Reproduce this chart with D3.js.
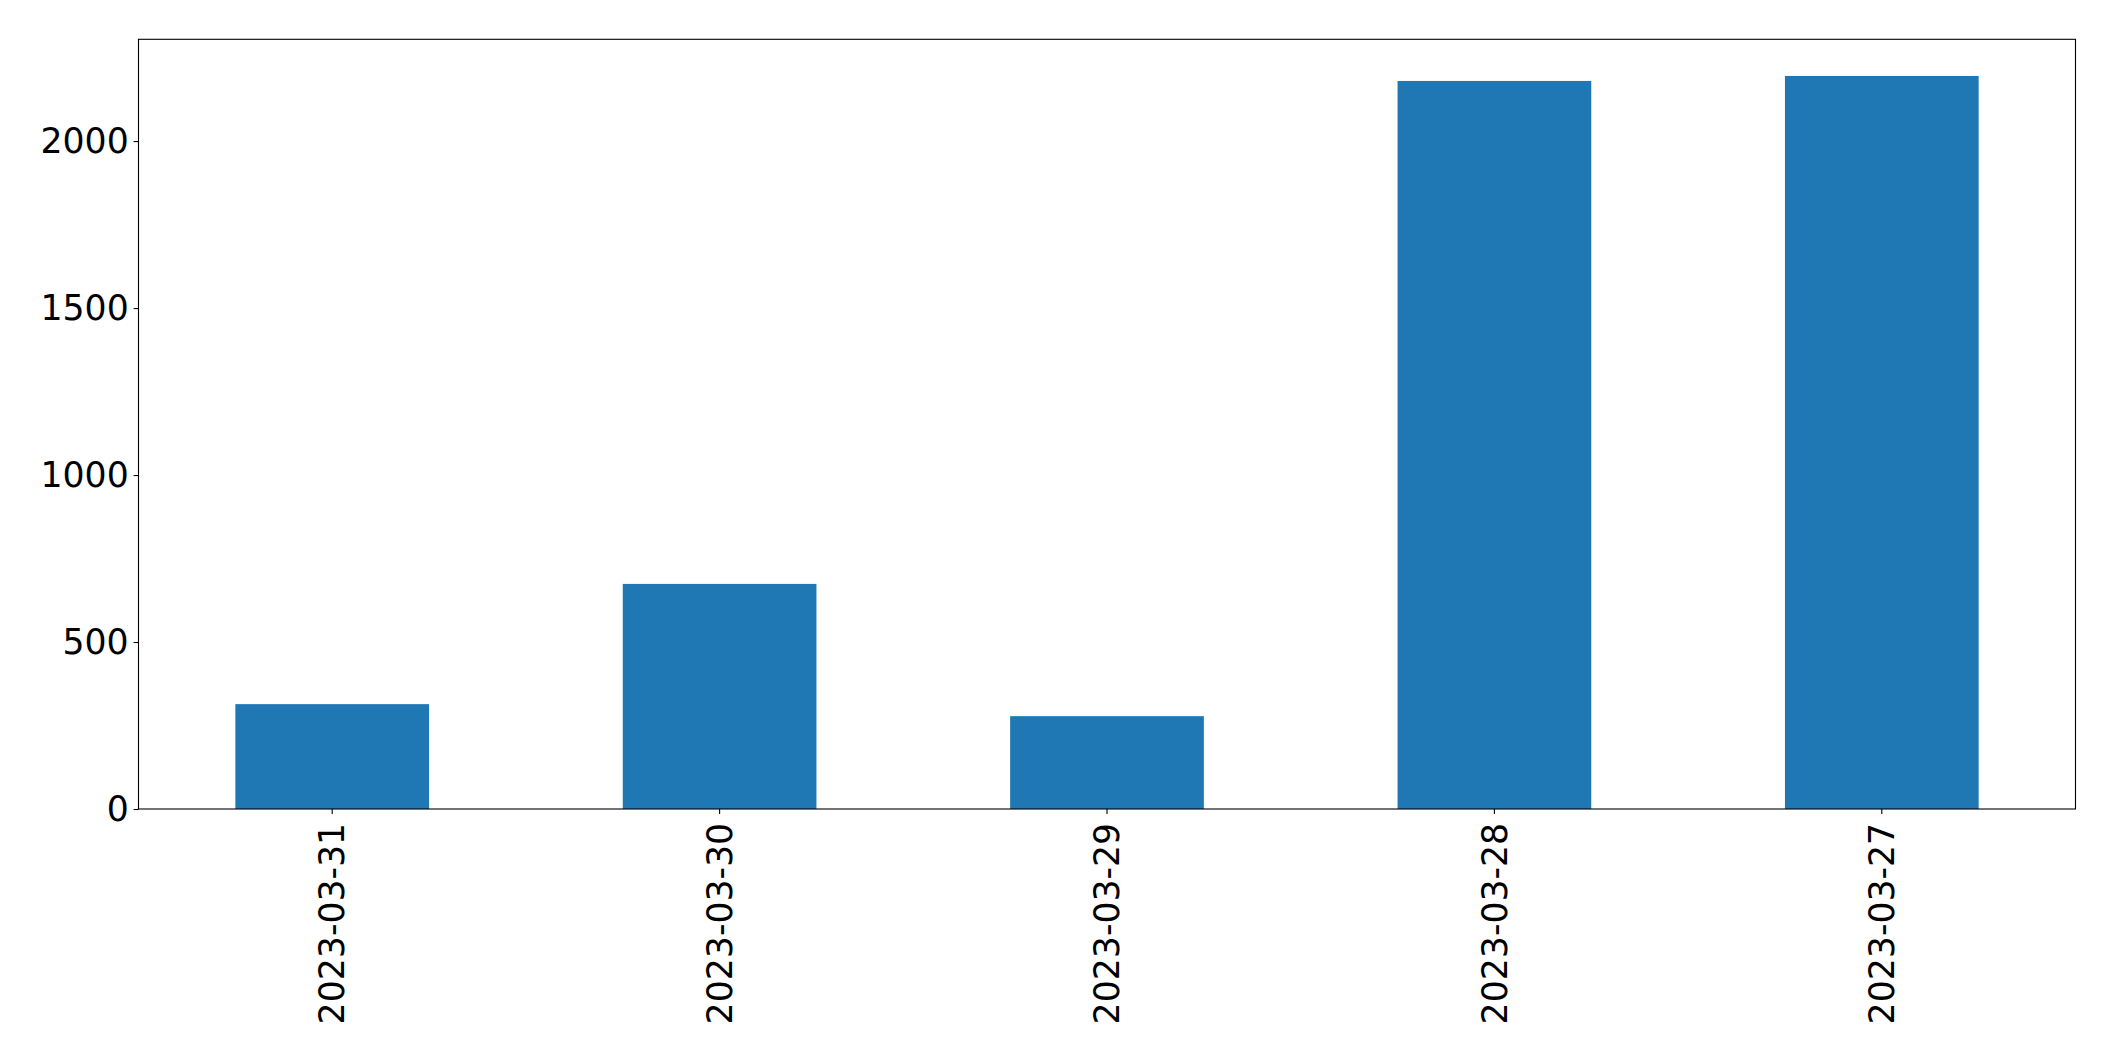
<!DOCTYPE html>
<html>
<head>
<meta charset="utf-8">
<script src="https://cdn.jsdelivr.net/npm/d3@7"></script>
<style>
  html, body { margin: 0; padding: 0; background: #fff; }
  svg { display: block; }
  text { font-family: "DejaVu Sans", sans-serif; fill: #000; }
</style>
</head>
<body>
<div id="chart"></div>
<script>
const categories = ["2023-03-31", "2023-03-30", "2023-03-29", "2023-03-28", "2023-03-27"];
const values = [314, 674, 278, 2180, 2195];
const yTicks = [0, 500, 1000, 1500, 2000];

const W = 2115, H = 1061;
const margin = { left: 138.5, right: W - 2075.5, top: 39.3, bottom: H - 809 };
const fontSize = 34.7;
const tickLen = 4.9, tickPad = 4.9;

const svg = d3.select("#chart").append("svg")
  .attr("width", W).attr("height", H);

const x = d3.scaleBand()
  .domain(categories)
  .range([margin.left, W - margin.right])
  .paddingInner(0.5).paddingOuter(0.25);

const yMax = d3.max(values) * 1.05;
const y = d3.scaleLinear()
  .domain([0, yMax])
  .range([H - margin.bottom, margin.top]);

// bars
svg.append("g").selectAll("rect")
  .data(categories.map((c, i) => ({ c, v: values[i] })))
  .join("rect")
  .attr("x", d => x(d.c))
  .attr("width", x.bandwidth())
  .attr("y", d => y(d.v))
  .attr("height", d => y(0) - y(d.v))
  .attr("fill", "#1f77b4");

// frame
svg.append("rect")
  .attr("x", margin.left).attr("y", margin.top)
  .attr("width", W - margin.left - margin.right)
  .attr("height", H - margin.top - margin.bottom)
  .attr("fill", "none").attr("stroke", "#000").attr("stroke-width", 1.1);

// y axis
const yAxis = d3.axisLeft(y).tickValues(yTicks).tickSize(tickLen).tickPadding(tickPad).tickFormat(d3.format("d"));
const gy = svg.append("g").attr("transform", `translate(${margin.left},0)`).call(yAxis);
gy.select(".domain").remove();
gy.selectAll(".tick line").attr("stroke", "#000").attr("stroke-width", 1.1);
gy.selectAll(".tick text").attr("font-size", fontSize).attr("font-family", "DejaVu Sans").attr("fill", "#000");

// x axis
const xAxis = d3.axisBottom(x).tickSize(tickLen).tickPadding(tickPad);
const gx = svg.append("g").attr("transform", `translate(0,${H - margin.bottom})`).call(xAxis);
gx.select(".domain").remove();
gx.selectAll(".tick line").attr("stroke", "#000").attr("stroke-width", 1.1);
gx.selectAll(".tick text")
  .attr("font-size", fontSize).attr("font-family", "DejaVu Sans").attr("fill", "#000")
  .attr("text-anchor", "end")
  .attr("dy", "0.35em")
  .attr("x", 0)
  .attr("y", 0)
  .attr("transform", `translate(0,${tickLen + tickPad + 4}) rotate(-90)`);
</script>
</body>
</html>
